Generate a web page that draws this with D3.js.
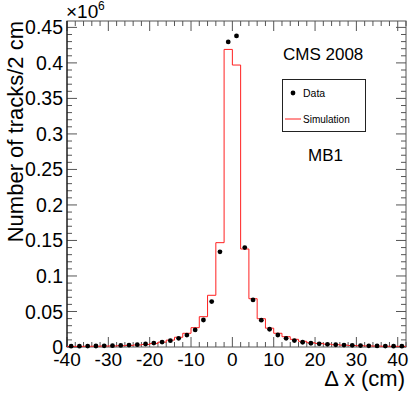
<!DOCTYPE html>
<meta charset="utf-8">
<style>
    body { margin: 0; background: #fff; }
    text { font-family: "Liberation Sans", Arial, Helvetica, sans-serif; fill: #000; }
</style>
<svg width="415" height="399"></svg>
<script src="https://d3js.org/d3.v7.min.js"></script>
<script>

    // bin centres (2 cm bins from -40 to 42)
    var binCenters = [-39, -37, -35, -33, -31, -29, -27, -25, -23, -21, -19, -17, -15, -13, -11, -9, -7, -5, -3, -1,
        1, 3, 5, 7, 9, 11, 13, 15, 17, 19, 21, 23, 25, 27, 29, 31, 33, 35, 37, 39, 41];

    // simulation histogram, in units of 10^6 tracks
    var simValues = [0.0008, 0.0009, 0.0010, 0.0011, 0.0013, 0.0015, 0.0018, 0.0022, 0.0028, 0.0036, 0.0048, 0.0068,
        0.0097, 0.0137, 0.0193, 0.0272, 0.0427, 0.0728, 0.1469, 0.4190,
        0.3970, 0.1380, 0.0680, 0.0398, 0.0265, 0.0193, 0.0145, 0.0108, 0.0080, 0.0060, 0.0050, 0.0040,
        0.0032, 0.0026, 0.0021, 0.0018, 0.0015, 0.0013, 0.0011, 0.0010, 0.0009];

    // data points
    var dataValues = [0.0012, 0.0012, 0.0013, 0.0014, 0.0016, 0.0018, 0.0022, 0.0027, 0.0033, 0.0042, 0.0055, 0.0070,
        0.0089, 0.0122, 0.0168, 0.0240, 0.0380, 0.0640, 0.1340, 0.4296,
        0.4380, 0.1400, 0.0663, 0.0378, 0.0250, 0.0169, 0.0122, 0.0090, 0.0067, 0.0053, 0.0045, 0.0038,
        0.0032, 0.0027, 0.0023, 0.0020, 0.0017, 0.0015, 0.0013, 0.0012, 0.0011];

    var xMajor = [-40, -30, -20, -10, 0, 10, 20, 30, 40];
    var yMajor = [0, 0.05, 0.1, 0.15, 0.2, 0.25, 0.3, 0.35, 0.4, 0.45];
    var yLabels = ["0", "0.05", "0.1", "0.15", "0.2", "0.25", "0.3", "0.35", "0.4", "0.45"];

    var binWidth = 2;

    var svg = d3.select("svg"),
        fLeft = 67, fRight = 406, fTop = 21, fBottom = 347;

    var x = d3.scaleLinear().domain([-40, 42]).range([fLeft, fRight]);
    var y = d3.scaleLinear().domain([0, 0.459]).range([fBottom, fTop]);

    var axisColor = "#555";

    // minor ticks
    var xMinor = d3.range(-40, 42.1, 2);
    var yMinor = d3.range(0, 0.4591, 0.01);

    var ticks = svg.append("g").attr("stroke", axisColor).attr("stroke-width", 1);

    xMinor.forEach(function (v) {
        var major = xMajor.indexOf(v) >= 0;
        var len = major ? 10 : 5;
        ticks.append("line").attr("x1", x(v)).attr("x2", x(v)).attr("y1", fBottom).attr("y2", fBottom - len);
        ticks.append("line").attr("x1", x(v)).attr("x2", x(v)).attr("y1", fTop).attr("y2", fTop + len);
    });

    yMinor.forEach(function (v) {
        var major = yMajor.some(function (m) { return Math.abs(m - v) < 1e-6; });
        var len = major ? 10 : 5;
        ticks.append("line").attr("x1", fLeft).attr("x2", fLeft + len).attr("y1", y(v)).attr("y2", y(v));
        ticks.append("line").attr("x1", fRight).attr("x2", fRight - len).attr("y1", y(v)).attr("y2", y(v));
    });

    // frame
    svg.append("rect")
        .attr("x", fLeft).attr("y", fTop)
        .attr("width", fRight - fLeft).attr("height", fBottom - fTop)
        .attr("fill", "none").attr("stroke", axisColor).attr("stroke-width", 1);
    svg.append("line")
        .attr("x1", fLeft).attr("x2", fLeft).attr("y1", fTop).attr("y2", fBottom)
        .attr("stroke", "#000").attr("stroke-width", 1);

    // simulation histogram as steps
    var steps = [];
    binCenters.forEach(function (c, i) {
        steps.push([c - binWidth / 2, simValues[i]]);
        steps.push([c + binWidth / 2, simValues[i]]);
    });
    svg.append("path")
        .datum(steps)
        .attr("fill", "none")
        .attr("stroke", "#ff2020")
        .attr("stroke-width", 1)
        .attr("d", d3.line().x(function (d) { return x(d[0]); }).y(function (d) { return y(d[1]); }));

    // data points
    svg.append("g").selectAll("circle")
        .data(binCenters)
        .enter().append("circle")
        .attr("cx", function (d) { return x(d); })
        .attr("cy", function (d, i) { return y(dataValues[i]); })
        .attr("r", 2.4)
        .attr("fill", "#000");

    // tick labels
    svg.append("g").selectAll("text")
        .data(xMajor)
        .enter().append("text")
        .attr("x", function (d) { return x(d); })
        .attr("y", 366)
        .attr("text-anchor", "middle")
        .style("font-size", "19px")
        .text(function (d) { return d; });

    svg.append("g").selectAll("text")
        .data(yMajor)
        .enter().append("text")
        .attr("x", fLeft - 4)
        .attr("y", function (d) { return y(d); })
        .attr("dy", "0.36em")
        .attr("text-anchor", "end")
        .style("font-size", "19.5px")
        .text(function (d, i) { return yLabels[i]; });

    // exponent
    svg.append("text").attr("x", 66).attr("y", 18).style("font-size", "19px").text("×10");
    svg.append("text").attr("x", 98).attr("y", 10).style("font-size", "12px").text("6");

    // axis titles
    svg.append("text")
        .attr("x", 405).attr("y", 386)
        .attr("text-anchor", "end")
        .style("font-size", "22px")
        .text("Δ x (cm)");

    svg.append("text")
        .attr("transform", "translate(23,21) rotate(-90)")
        .attr("text-anchor", "end")
        .style("font-size", "22px")
        .text("Number of tracks/2 cm");

    // labels
    svg.append("text").attr("x", 283).attr("y", 60).style("font-size", "17px").text("CMS 2008");
    svg.append("text").attr("x", 308).attr("y", 161).style("font-size", "17px").text("MB1");

    // legend
    var legend = svg.append("g");
    legend.append("rect")
        .attr("x", 282.5).attr("y", 79.5).attr("width", 83).attr("height", 52)
        .attr("fill", "#fff").attr("stroke", "#222").attr("stroke-width", 1);
    legend.append("circle").attr("cx", 293).attr("cy", 93).attr("r", 2.4).attr("fill", "#000");
    legend.append("text").attr("x", 303).attr("y", 97).style("font-size", "10.5px").text("Data");
    legend.append("line").attr("x1", 285).attr("x2", 301).attr("y1", 119).attr("y2", 119)
        .attr("stroke", "#ff2020").attr("stroke-width", 1);
    legend.append("text").attr("x", 303).attr("y", 122.5).style("font-size", "10px").text("Simulation");

</script>
